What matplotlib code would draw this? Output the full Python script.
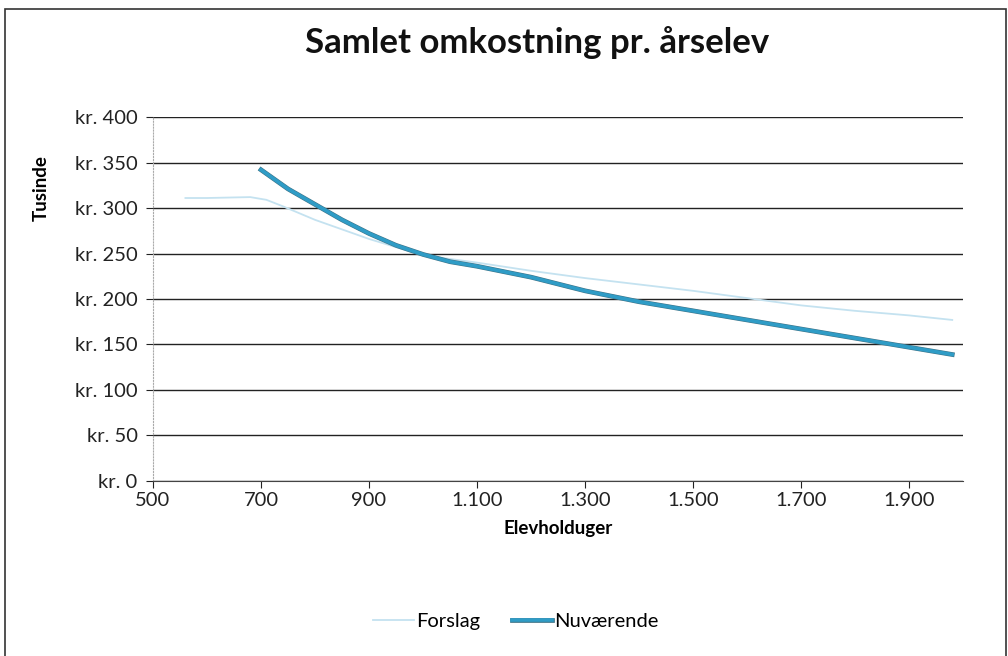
import matplotlib.pyplot as plt
import matplotlib.patheffects as pe
from matplotlib.patches import Rectangle
from matplotlib.ticker import FuncFormatter

plt.rcParams['font.family'] = ['Lato', 'DejaVu Sans']

# data (thousand kr. per student)
forslag_x = [560, 600, 680, 710, 740, 800, 900, 1000, 1100, 1200, 1300, 1400, 1500, 1600, 1700, 1800, 1900, 1980]
forslag_y = [311, 311, 312, 309, 302, 287, 266, 248, 240, 231, 223, 216, 209, 201, 193, 187, 182, 177]
nuv_x = [700, 750, 800, 850, 900, 950, 1000, 1050, 1100, 1200, 1300, 1400, 1500, 1600, 1700, 1800, 1900, 1980]
nuv_y = [342, 321, 304, 287, 272, 259, 249, 241, 236, 224, 209, 197, 187, 177, 167, 157, 147, 139]
x_ticks = [500, 700, 900, 1100, 1300, 1500, 1700, 1900]
y_ticks = [0, 50, 100, 150, 200, 250, 300, 350, 400]

fig = plt.figure(figsize=(10.08, 6.56), dpi=100)
ax = fig.add_axes([0.1518, 0.2668, 0.8036, 0.5548])

# outer chart border
fig.patches.append(Rectangle((0.005, -0.01), 0.993, 0.997, transform=fig.transFigure,
                             fill=False, edgecolor='#333333', linewidth=1.2))

ax.plot(forslag_x, forslag_y, color='#c4e2f0', linewidth=1.3, label='Forslag')
ax.plot(nuv_x, nuv_y, color='#2f9cc6', linewidth=2.6, label='Nuværende',
        path_effects=[pe.Stroke(linewidth=3.4, foreground='#3f7488'), pe.Normal()])

ax.set_xlim(500, 2000)
ax.set_ylim(0, 400)
ax.set_xticks(x_ticks)
ax.set_yticks(y_ticks)
ax.xaxis.set_major_formatter(FuncFormatter(lambda v, p: f'{int(v):,}'.replace(',', '.')))
ax.yaxis.set_major_formatter(FuncFormatter(lambda v, p: f'kr. {int(v)}'))
ax.tick_params(axis='both', labelsize=14.5, colors='#222222', length=5, width=0.8)
ax.tick_params(axis='x', pad=3)
ax.tick_params(axis='y', pad=6)

ax.yaxis.grid(True, color='#222222', linewidth=1.0)
ax.set_axisbelow(True)
for s in ['top', 'right']:
    ax.spines[s].set_visible(False)
ax.spines['left'].set_color('#aaaaaa')
ax.spines['left'].set_linestyle(':')
ax.spines['bottom'].set_color('#444444')

ax.set_xlabel('Elevholduger', fontsize=13.5, fontweight='bold', labelpad=8)
ax.set_ylabel('Tusinde', fontsize=13.5, fontweight='bold')
ax.yaxis.set_label_coords(-0.127, 0.805)

fig.text(0.533, 0.935, 'Samlet omkostning pr. årselev', ha='center', va='center',
         fontsize=25, fontweight='bold', color='#111111')

fig.legend(loc='center', bbox_to_anchor=(0.512, 0.052), ncol=2, frameon=False,
           fontsize=14.5, handlelength=2.0, handletextpad=0.1, columnspacing=1.6)

fig.savefig('out.png', dpi=100)
